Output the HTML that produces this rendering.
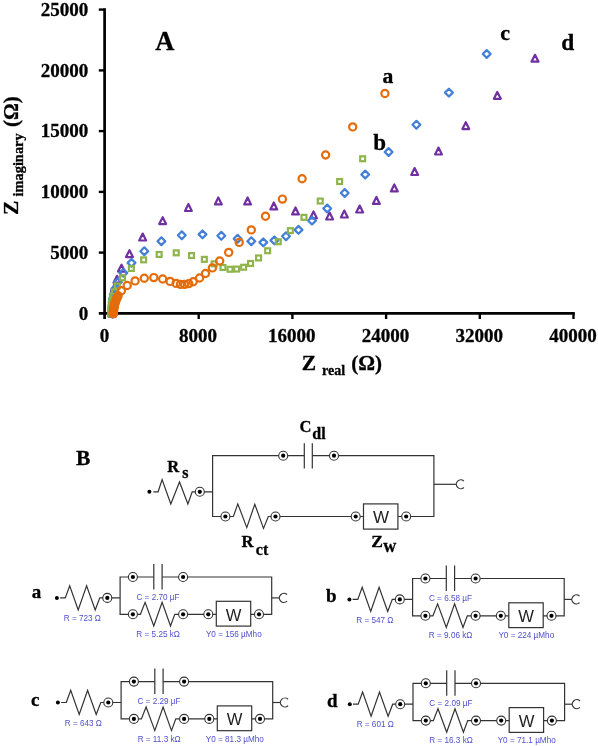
<!DOCTYPE html>
<html><head><meta charset="utf-8"><title>Nyquist</title>
<style>html,body{margin:0;padding:0;background:#fff}body{width:598px;height:746px;overflow:hidden;font-family:"Liberation Serif",serif}svg{display:block}text{font-family:"Liberation Serif",serif;font-weight:bold;fill:#000;stroke:#000;stroke-width:.3px}.s{font-family:"Liberation Sans",sans-serif;font-weight:normal;stroke:none}</style>
</head><body><div style="will-change:transform;width:598px;height:746px">
<svg width="598" height="746" viewBox="0 0 598 746">
<rect width="598" height="746" fill="#fff"/>
<g stroke="#000" stroke-width="2.7" fill="none" stroke-linecap="butt">
<path d="M104.6 8.299999999999965 V319.0"/>
<path d="M98.8 313.4 H574.8"/>
</g>
<g stroke="#000" stroke-width="2.4" fill="none">
<path d="M98.8 252.6 H104.6"/>
<path d="M98.8 191.9 H104.6"/>
<path d="M98.8 131.1 H104.6"/>
<path d="M98.8 70.4 H104.6"/>
<path d="M98.8 9.6 H104.6"/>
<path d="M198.7 313.4 V319.0"/>
<path d="M292.4 313.4 V319.0"/>
<path d="M386.1 313.4 V319.0"/>
<path d="M479.8 313.4 V319.0"/>
<path d="M573.5 313.4 V319.0"/>
</g>
<g font-size="19">
<text x="88.3" y="319.6" text-anchor="end">0</text>
<text x="88.3" y="258.8" text-anchor="end">5000</text>
<text x="88.3" y="198.1" text-anchor="end">10000</text>
<text x="88.3" y="137.3" text-anchor="end">15000</text>
<text x="88.3" y="76.6" text-anchor="end">20000</text>
<text x="88.3" y="15.8" text-anchor="end">25000</text>
<text x="104.4" y="341.5" text-anchor="middle">0</text>
<text x="198.1" y="341.5" text-anchor="middle">8000</text>
<text x="291.8" y="341.5" text-anchor="middle">16000</text>
<text x="385.5" y="341.5" text-anchor="middle">24000</text>
<text x="479.2" y="341.5" text-anchor="middle">32000</text>
<text x="572.9" y="341.5" text-anchor="middle">40000</text>
</g>
<text x="301.8" y="370.2" font-size="21.5">Z</text>
<text x="322" y="374.8" font-size="14">real</text>
<text x="351.3" y="370.2" font-size="21">(Ω)</text>
<g transform="translate(17.8,215) rotate(-90)">
<text x="0" y="0" font-size="21.5">Z</text>
<text x="18.5" y="4.8" font-size="14.4">imaginary</text>
<text x="88" y="0" font-size="21">(Ω)</text>
</g>
<text x="155.3" y="49.9" font-size="26.5">A</text>
<text x="382.5" y="83.2" font-size="21.7">a</text>
<text x="373.2" y="149.6" font-size="23">b</text>
<text x="500.2" y="39.7" font-size="22">c</text>
<text x="561.3" y="50.4" font-size="23.4">d</text>
<g fill="none" stroke="#7030A0" stroke-width="2.2" stroke-linejoin="round">
<path d="M535.0 54.8 L538.5 61.7 H531.5 Z"/>
<path d="M497.3 91.9 L500.8 98.8 H493.9 Z"/>
<path d="M465.8 122.2 L469.2 129.1 H462.4 Z"/>
<path d="M438.5 147.6 L441.9 154.5 H435.1 Z"/>
<path d="M414.6 168.1 L418.1 175.0 H411.2 Z"/>
<path d="M394.3 184.5 L397.8 191.4 H390.9 Z"/>
<path d="M376.4 197.0 L379.8 203.9 H372.9 Z"/>
<path d="M359.7 205.6 L363.1 212.5 H356.2 Z"/>
<path d="M344.3 210.6 L347.8 217.5 H340.9 Z"/>
<path d="M329.6 212.6 L333.1 219.5 H326.2 Z"/>
<path d="M313.5 211.4 L316.9 218.3 H310.1 Z"/>
<path d="M295.5 207.5 L298.9 214.4 H292.1 Z"/>
<path d="M273.8 202.5 L277.2 209.4 H270.4 Z"/>
<path d="M247.6 197.5 L251.0 204.4 H244.2 Z"/>
<path d="M218.3 197.5 L221.8 204.4 H214.9 Z"/>
<path d="M188.4 204.1 L191.8 211.0 H185.0 Z"/>
<path d="M162.7 217.2 L166.1 224.1 H159.2 Z"/>
<path d="M142.7 233.6 L146.1 240.5 H139.2 Z"/>
<path d="M129.5 250.2 L132.9 257.1 H126.0 Z"/>
<path d="M121.5 264.7 L125.0 271.6 H118.0 Z"/>
<path d="M117.0 275.8 L120.5 282.7 H113.5 Z"/>
<path d="M114.5 284.3 L118.0 291.2 H111.0 Z"/>
<path d="M113.2 290.8 L116.7 297.7 H109.8 Z"/>
<path d="M112.5 295.8 L116.0 302.7 H109.0 Z"/>
<path d="M112.2 299.8 L115.7 306.7 H108.8 Z"/>
<path d="M112.1 302.8 L115.5 309.7 H108.6 Z"/>
<path d="M112.0 305.3 L115.5 312.2 H108.5 Z"/>
<path d="M112.0 307.3 L115.5 314.2 H108.5 Z"/>
<path d="M112.0 308.8 L115.5 315.7 H108.5 Z"/>
<path d="M112.0 309.8 L115.5 316.7 H108.5 Z"/>
</g>
<g fill="none" stroke="#427FD8" stroke-width="2.2" stroke-linejoin="round">
<path d="M486.7 50.1 L490.6 54.0 L486.7 57.9 L482.8 54.0 Z"/>
<path d="M448.9 88.7 L452.8 92.6 L448.9 96.5 L445.0 92.6 Z"/>
<path d="M416.4 120.8 L420.3 124.7 L416.4 128.6 L412.5 124.7 Z"/>
<path d="M388.6 148.1 L392.5 152.0 L388.6 155.9 L384.7 152.0 Z"/>
<path d="M365.2 170.6 L369.1 174.5 L365.2 178.4 L361.3 174.5 Z"/>
<path d="M344.7 189.1 L348.6 193.0 L344.7 196.9 L340.8 193.0 Z"/>
<path d="M327.2 204.6 L331.1 208.5 L327.2 212.4 L323.3 208.5 Z"/>
<path d="M312.0 216.7 L315.9 220.6 L312.0 224.5 L308.1 220.6 Z"/>
<path d="M298.5 226.0 L302.4 229.9 L298.5 233.8 L294.6 229.9 Z"/>
<path d="M286.0 232.4 L289.9 236.3 L286.0 240.2 L282.1 236.3 Z"/>
<path d="M274.4 236.5 L278.3 240.4 L274.4 244.3 L270.5 240.4 Z"/>
<path d="M263.3 238.5 L267.2 242.4 L263.3 246.3 L259.4 242.4 Z"/>
<path d="M251.3 237.3 L255.2 241.2 L251.3 245.1 L247.4 241.2 Z"/>
<path d="M237.6 234.8 L241.5 238.7 L237.6 242.6 L233.7 238.7 Z"/>
<path d="M221.3 231.9 L225.2 235.8 L221.3 239.7 L217.4 235.8 Z"/>
<path d="M202.5 230.5 L206.4 234.4 L202.5 238.3 L198.6 234.4 Z"/>
<path d="M181.8 231.4 L185.7 235.3 L181.8 239.2 L177.9 235.3 Z"/>
<path d="M161.4 237.3 L165.3 241.2 L161.4 245.1 L157.5 241.2 Z"/>
<path d="M144.3 247.3 L148.2 251.2 L144.3 255.1 L140.4 251.2 Z"/>
<path d="M131.5 259.0 L135.4 262.9 L131.5 266.8 L127.6 262.9 Z"/>
<path d="M123.3 269.0 L127.2 272.9 L123.3 276.8 L119.4 272.9 Z"/>
<path d="M118.0 278.1 L121.9 282.0 L118.0 285.9 L114.1 282.0 Z"/>
<path d="M115.2 285.0 L119.1 288.9 L115.2 292.8 L111.3 288.9 Z"/>
<path d="M113.7 290.5 L117.6 294.4 L113.7 298.3 L109.8 294.4 Z"/>
<path d="M113.0 295.0 L116.9 298.9 L113.0 302.8 L109.1 298.9 Z"/>
<path d="M112.7 298.5 L116.6 302.4 L112.7 306.3 L108.8 302.4 Z"/>
<path d="M112.6 301.5 L116.5 305.4 L112.6 309.3 L108.7 305.4 Z"/>
<path d="M112.5 304.0 L116.4 307.9 L112.5 311.8 L108.6 307.9 Z"/>
<path d="M112.5 306.0 L116.4 309.9 L112.5 313.8 L108.6 309.9 Z"/>
<path d="M112.5 307.5 L116.4 311.4 L112.5 315.3 L108.6 311.4 Z"/>
<path d="M112.5 308.8 L116.4 312.7 L112.5 316.6 L108.6 312.7 Z"/>
<path d="M112.5 309.8 L116.4 313.7 L112.5 317.6 L108.6 313.7 Z"/>
</g>
<g fill="none" stroke="#8FB44C" stroke-width="2.2">
<rect x="360.2" y="156.3" width="4.9" height="4.9"/>
<rect x="337.2" y="179.1" width="4.9" height="4.9"/>
<rect x="317.8" y="198.6" width="4.9" height="4.9"/>
<rect x="301.5" y="214.9" width="4.9" height="4.9"/>
<rect x="287.9" y="228.2" width="4.9" height="4.9"/>
<rect x="275.8" y="239.3" width="4.9" height="4.9"/>
<rect x="265.2" y="248.3" width="4.9" height="4.9"/>
<rect x="256.1" y="255.5" width="4.9" height="4.9"/>
<rect x="248.1" y="261.0" width="4.9" height="4.9"/>
<rect x="241.2" y="264.8" width="4.9" height="4.9"/>
<rect x="234.2" y="266.6" width="4.9" height="4.9"/>
<rect x="227.6" y="266.8" width="4.9" height="4.9"/>
<rect x="220.5" y="265.0" width="4.9" height="4.9"/>
<rect x="211.7" y="261.4" width="4.9" height="4.9"/>
<rect x="201.9" y="256.9" width="4.9" height="4.9"/>
<rect x="189.1" y="253.1" width="4.9" height="4.9"/>
<rect x="173.8" y="250.4" width="4.9" height="4.9"/>
<rect x="156.7" y="252.0" width="4.9" height="4.9"/>
<rect x="141.2" y="257.4" width="4.9" height="4.9"/>
<rect x="128.9" y="266.0" width="4.9" height="4.9"/>
<rect x="120.1" y="275.4" width="4.9" height="4.9"/>
<rect x="114.8" y="283.5" width="4.9" height="4.9"/>
<rect x="111.9" y="289.4" width="4.9" height="4.9"/>
<rect x="110.5" y="293.9" width="4.9" height="4.9"/>
<rect x="109.8" y="297.4" width="4.9" height="4.9"/>
<rect x="109.2" y="300.4" width="4.9" height="4.9"/>
<rect x="108.9" y="302.9" width="4.9" height="4.9"/>
<rect x="108.8" y="304.9" width="4.9" height="4.9"/>
<rect x="108.8" y="306.9" width="4.9" height="4.9"/>
<rect x="108.8" y="308.4" width="4.9" height="4.9"/>
<rect x="108.8" y="309.7" width="4.9" height="4.9"/>
<rect x="108.8" y="310.7" width="4.9" height="4.9"/>
<rect x="108.8" y="311.4" width="4.9" height="4.9"/>
</g>
<g fill="none" stroke="#E46C0A" stroke-width="2.2">
<circle cx="384.9" cy="93.5" r="3.6"/>
<circle cx="352.7" cy="126.9" r="3.6"/>
<circle cx="325.6" cy="155.0" r="3.6"/>
<circle cx="302.1" cy="178.7" r="3.6"/>
<circle cx="282.4" cy="199.1" r="3.6"/>
<circle cx="265.5" cy="216.2" r="3.6"/>
<circle cx="251.3" cy="229.9" r="3.6"/>
<circle cx="239.2" cy="242.4" r="3.6"/>
<circle cx="228.7" cy="252.4" r="3.6"/>
<circle cx="219.7" cy="261.0" r="3.6"/>
<circle cx="212.4" cy="267.9" r="3.6"/>
<circle cx="205.5" cy="273.5" r="3.6"/>
<circle cx="199.6" cy="278.0" r="3.6"/>
<circle cx="193.2" cy="281.8" r="3.6"/>
<circle cx="188.7" cy="283.6" r="3.6"/>
<circle cx="184.6" cy="284.4" r="3.6"/>
<circle cx="180.5" cy="284.4" r="3.6"/>
<circle cx="176.2" cy="283.4" r="3.6"/>
<circle cx="170.1" cy="281.4" r="3.6"/>
<circle cx="162.7" cy="279.0" r="3.6"/>
<circle cx="153.8" cy="277.6" r="3.6"/>
<circle cx="144.3" cy="278.3" r="3.6"/>
<circle cx="135.1" cy="280.9" r="3.6"/>
<circle cx="127.2" cy="285.5" r="3.6"/>
<circle cx="121.4" cy="290.7" r="3.6"/>
<circle cx="118.1" cy="295.7" r="3.6"/>
<circle cx="117.1" cy="297.7" r="3.6"/>
<circle cx="116.3" cy="299.5" r="3.6"/>
<circle cx="115.7" cy="301.0" r="3.6"/>
<circle cx="115.2" cy="302.5" r="3.6"/>
<circle cx="114.8" cy="303.8" r="3.6"/>
<circle cx="114.5" cy="305.0" r="3.6"/>
<circle cx="114.3" cy="306.0" r="3.6"/>
<circle cx="114.1" cy="307.0" r="3.6"/>
<circle cx="113.8" cy="308.7" r="3.6"/>
<circle cx="113.6" cy="310.0" r="3.6"/>
<circle cx="113.5" cy="311.0" r="3.6"/>
<circle cx="113.4" cy="312.0" r="3.6"/>
<circle cx="113.4" cy="312.8" r="3.6"/>
<circle cx="113.4" cy="313.4" r="3.6"/>
<circle cx="113.4" cy="313.8" r="3.6"/>
</g>
<text x="76" y="464.6" font-size="21.5">B</text>
<g fill="none" stroke="#333" stroke-width="1.2" stroke-linejoin="miter">
<path d="M153.4 491.8 H158.1 L162.1 479.6 L170.8 504.0 L179.5 482.0 L187.9 504.0 L192.2 491.8 H212.6"/>
<path d="M304.3 455.7 H212.6 V516.5 H233.4 L237.8 503.9 L246.8 527.6 L254.8 504.2 L263.5 528.4 L268.3 516.5 H363.5"/>
<path d="M304.3 443.2 V468.5 M312.3 443.2 V468.5"/>
<path d="M312.3 455.7 H433.9 V516.5 H398"/>
<path d="M433.9 484.3 H456.3"/>
<rect x="363.5" y="503.9" width="34.4" height="25.2"/>
</g>
<circle cx="149.4" cy="491.8" r="2.0" fill="#000"/>
<circle cx="199.8" cy="491.8" r="4.5" fill="#fff" stroke="#333" stroke-width="1.1"/><circle cx="199.8" cy="491.8" r="2.1" fill="#000" stroke="none"/>
<circle cx="283.2" cy="455.7" r="4.5" fill="#fff" stroke="#333" stroke-width="1.1"/><circle cx="283.2" cy="455.7" r="2.1" fill="#000" stroke="none"/>
<circle cx="334" cy="455.7" r="4.5" fill="#fff" stroke="#333" stroke-width="1.1"/><circle cx="334" cy="455.7" r="2.1" fill="#000" stroke="none"/>
<circle cx="225.4" cy="516.5" r="4.5" fill="#fff" stroke="#333" stroke-width="1.1"/><circle cx="225.4" cy="516.5" r="2.1" fill="#000" stroke="none"/>
<circle cx="275.5" cy="516.5" r="4.5" fill="#fff" stroke="#333" stroke-width="1.1"/><circle cx="275.5" cy="516.5" r="2.1" fill="#000" stroke="none"/>
<circle cx="355.7" cy="516.5" r="4.5" fill="#fff" stroke="#333" stroke-width="1.1"/><circle cx="355.7" cy="516.5" r="2.1" fill="#000" stroke="none"/>
<circle cx="406.2" cy="516.5" r="4.5" fill="#fff" stroke="#333" stroke-width="1.1"/><circle cx="406.2" cy="516.5" r="2.1" fill="#000" stroke="none"/>
<path d="M463.89 481.10 A4.45 4.45 0 1 0 463.89 487.50" fill="none" stroke="#333" stroke-width="1.2"/>
<text class="s" x="381.1" y="523.2" font-size="17" text-anchor="middle" style="fill:#222">W</text>
<g font-size="16.5">
<text x="167.3" y="472.4">R</text><text x="182.2" y="477.9" font-size="16">s</text>
<text x="299.6" y="431.6">C</text><text x="312.3" y="438.9" font-size="16">dl</text>
<text x="241.4" y="547.4">R</text><text x="255.8" y="555" font-size="16">ct</text>
<text x="371.3" y="547.1" font-size="17.5">Z</text><text x="383.2" y="552" font-size="18">w</text>
</g>
<g transform="translate(0,0)">
<g fill="none" stroke="#333" stroke-width="1.2" stroke-linejoin="miter">
<path d="M60.1 597.9 H65.3 L69.7 585.7 L78.2 609.9 L86.6 585.7 L95.2 609.9 L99.8 597.9 H120.1"/>
<path d="M153.8 577.0 H120.1 V614.3 H140.4 L145.1 602.4 L153.8 626.0 L162.1 602.4 L170.5 626.0 L174.8 614.3 H216.3"/>
<path d="M153.8 564.0 V589.4 M162.1 564.0 V589.4"/>
<path d="M162.1 577.0 H271.7 V614.3 H250.7"/>
<path d="M271.7 597.9 H279.4"/>
<rect x="216.3" y="601.3" width="34.4" height="24.8"/>
</g>
<circle cx="56.9" cy="597.9" r="2.0" fill="#000"/>
<circle cx="107.3" cy="597.9" r="4.5" fill="#fff" stroke="#333" stroke-width="1.1"/><circle cx="107.3" cy="597.9" r="2.1" fill="#000" stroke="none"/>
<circle cx="132.9" cy="577.0" r="4.5" fill="#fff" stroke="#333" stroke-width="1.1"/><circle cx="132.9" cy="577.0" r="2.1" fill="#000" stroke="none"/>
<circle cx="183.1" cy="577.0" r="4.5" fill="#fff" stroke="#333" stroke-width="1.1"/><circle cx="183.1" cy="577.0" r="2.1" fill="#000" stroke="none"/>
<circle cx="132.9" cy="614.3" r="4.5" fill="#fff" stroke="#333" stroke-width="1.1"/><circle cx="132.9" cy="614.3" r="2.1" fill="#000" stroke="none"/>
<circle cx="183.1" cy="614.3" r="4.5" fill="#fff" stroke="#333" stroke-width="1.1"/><circle cx="183.1" cy="614.3" r="2.1" fill="#000" stroke="none"/>
<circle cx="208.3" cy="614.3" r="4.5" fill="#fff" stroke="#333" stroke-width="1.1"/><circle cx="208.3" cy="614.3" r="2.1" fill="#000" stroke="none"/>
<circle cx="259.0" cy="614.3" r="4.5" fill="#fff" stroke="#333" stroke-width="1.1"/><circle cx="259.0" cy="614.3" r="2.1" fill="#000" stroke="none"/>
<path d="M287.03 594.66 A4.5 4.5 0 1 0 287.03 601.14" fill="none" stroke="#333" stroke-width="1.2"/>
<text class="s" x="233.6" y="620.6" font-size="16.6" text-anchor="middle" style="fill:#222">W</text>
<text class="s" transform="translate(82.35,621.0) scale(0.93,1)" font-size="8.8" text-anchor="middle" style="fill:#4f4fcc">R = 723 Ω</text>
<text class="s" transform="translate(158.0,599.7) scale(0.93,1)" font-size="8.8" text-anchor="middle" style="fill:#4f4fcc">C = 2.70 µF</text>
<text class="s" transform="translate(158.15,636.9) scale(0.93,1)" font-size="8.8" text-anchor="middle" style="fill:#4f4fcc">R = 5.25 kΩ</text>
<text class="s" transform="translate(233.8,636.9) scale(0.93,1)" font-size="8.8" text-anchor="middle" style="fill:#4f4fcc">Y0 = 156 µMho</text>
</g>
<text x="31.8" y="598.3" font-size="19">a</text>
<g transform="translate(292.5,1.5)">
<g fill="none" stroke="#333" stroke-width="1.2" stroke-linejoin="miter">
<path d="M60.1 597.9 H65.3 L69.7 585.7 L78.2 609.9 L86.6 585.7 L95.2 609.9 L99.8 597.9 H120.1"/>
<path d="M153.8 577.0 H120.1 V614.3 H140.4 L145.1 602.4 L153.8 626.0 L162.1 602.4 L170.5 626.0 L174.8 614.3 H216.3"/>
<path d="M153.8 564.0 V589.4 M162.1 564.0 V589.4"/>
<path d="M162.1 577.0 H271.7 V614.3 H250.7"/>
<path d="M271.7 597.9 H279.4"/>
<rect x="216.3" y="601.3" width="34.4" height="24.8"/>
</g>
<circle cx="56.9" cy="597.9" r="2.0" fill="#000"/>
<circle cx="107.3" cy="597.9" r="4.5" fill="#fff" stroke="#333" stroke-width="1.1"/><circle cx="107.3" cy="597.9" r="2.1" fill="#000" stroke="none"/>
<circle cx="132.9" cy="577.0" r="4.5" fill="#fff" stroke="#333" stroke-width="1.1"/><circle cx="132.9" cy="577.0" r="2.1" fill="#000" stroke="none"/>
<circle cx="183.1" cy="577.0" r="4.5" fill="#fff" stroke="#333" stroke-width="1.1"/><circle cx="183.1" cy="577.0" r="2.1" fill="#000" stroke="none"/>
<circle cx="132.9" cy="614.3" r="4.5" fill="#fff" stroke="#333" stroke-width="1.1"/><circle cx="132.9" cy="614.3" r="2.1" fill="#000" stroke="none"/>
<circle cx="183.1" cy="614.3" r="4.5" fill="#fff" stroke="#333" stroke-width="1.1"/><circle cx="183.1" cy="614.3" r="2.1" fill="#000" stroke="none"/>
<circle cx="208.3" cy="614.3" r="4.5" fill="#fff" stroke="#333" stroke-width="1.1"/><circle cx="208.3" cy="614.3" r="2.1" fill="#000" stroke="none"/>
<circle cx="259.0" cy="614.3" r="4.5" fill="#fff" stroke="#333" stroke-width="1.1"/><circle cx="259.0" cy="614.3" r="2.1" fill="#000" stroke="none"/>
<path d="M287.03 594.66 A4.5 4.5 0 1 0 287.03 601.14" fill="none" stroke="#333" stroke-width="1.2"/>
<text class="s" x="233.6" y="620.6" font-size="16.6" text-anchor="middle" style="fill:#222">W</text>
<text class="s" transform="translate(82.35,621.0) scale(0.93,1)" font-size="8.8" text-anchor="middle" style="fill:#4f4fcc">R = 547 Ω</text>
<text class="s" transform="translate(158.0,599.7) scale(0.93,1)" font-size="8.8" text-anchor="middle" style="fill:#4f4fcc">C = 6.58 µF</text>
<text class="s" transform="translate(158.15,636.9) scale(0.93,1)" font-size="8.8" text-anchor="middle" style="fill:#4f4fcc">R = 9.06 kΩ</text>
<text class="s" transform="translate(233.8,636.9) scale(0.93,1)" font-size="8.8" text-anchor="middle" style="fill:#4f4fcc">Y0 = 224 µMho</text>
</g>
<text x="326.0" y="601.9" font-size="19">b</text>
<g transform="translate(1.0,104.6)">
<g fill="none" stroke="#333" stroke-width="1.2" stroke-linejoin="miter">
<path d="M60.1 597.9 H65.3 L69.7 585.7 L78.2 609.9 L86.6 585.7 L95.2 609.9 L99.8 597.9 H120.1"/>
<path d="M153.8 577.0 H120.1 V614.3 H140.4 L145.1 602.4 L153.8 626.0 L162.1 602.4 L170.5 626.0 L174.8 614.3 H216.3"/>
<path d="M153.8 564.0 V589.4 M162.1 564.0 V589.4"/>
<path d="M162.1 577.0 H271.7 V614.3 H250.7"/>
<path d="M271.7 597.9 H279.4"/>
<rect x="216.3" y="601.3" width="34.4" height="24.8"/>
</g>
<circle cx="56.9" cy="597.9" r="2.0" fill="#000"/>
<circle cx="107.3" cy="597.9" r="4.5" fill="#fff" stroke="#333" stroke-width="1.1"/><circle cx="107.3" cy="597.9" r="2.1" fill="#000" stroke="none"/>
<circle cx="132.9" cy="577.0" r="4.5" fill="#fff" stroke="#333" stroke-width="1.1"/><circle cx="132.9" cy="577.0" r="2.1" fill="#000" stroke="none"/>
<circle cx="183.1" cy="577.0" r="4.5" fill="#fff" stroke="#333" stroke-width="1.1"/><circle cx="183.1" cy="577.0" r="2.1" fill="#000" stroke="none"/>
<circle cx="132.9" cy="614.3" r="4.5" fill="#fff" stroke="#333" stroke-width="1.1"/><circle cx="132.9" cy="614.3" r="2.1" fill="#000" stroke="none"/>
<circle cx="183.1" cy="614.3" r="4.5" fill="#fff" stroke="#333" stroke-width="1.1"/><circle cx="183.1" cy="614.3" r="2.1" fill="#000" stroke="none"/>
<circle cx="208.3" cy="614.3" r="4.5" fill="#fff" stroke="#333" stroke-width="1.1"/><circle cx="208.3" cy="614.3" r="2.1" fill="#000" stroke="none"/>
<circle cx="259.0" cy="614.3" r="4.5" fill="#fff" stroke="#333" stroke-width="1.1"/><circle cx="259.0" cy="614.3" r="2.1" fill="#000" stroke="none"/>
<path d="M287.03 594.66 A4.5 4.5 0 1 0 287.03 601.14" fill="none" stroke="#333" stroke-width="1.2"/>
<text class="s" x="233.6" y="620.6" font-size="16.6" text-anchor="middle" style="fill:#222">W</text>
<text class="s" transform="translate(82.35,621.0) scale(0.93,1)" font-size="8.8" text-anchor="middle" style="fill:#4f4fcc">R = 643 Ω</text>
<text class="s" transform="translate(158.0,599.7) scale(0.93,1)" font-size="8.8" text-anchor="middle" style="fill:#4f4fcc">C = 2.29 µF</text>
<text class="s" transform="translate(158.15,636.9) scale(0.93,1)" font-size="8.8" text-anchor="middle" style="fill:#4f4fcc">R = 11.3 kΩ</text>
<text class="s" transform="translate(233.8,636.9) scale(0.93,1)" font-size="8.8" text-anchor="middle" style="fill:#4f4fcc">Y0 = 81.3 µMho</text>
</g>
<text x="31.1" y="705.9" font-size="19">c</text>
<g transform="translate(292.9,106.3)">
<g fill="none" stroke="#333" stroke-width="1.2" stroke-linejoin="miter">
<path d="M60.1 597.9 H65.3 L69.7 585.7 L78.2 609.9 L86.6 585.7 L95.2 609.9 L99.8 597.9 H120.1"/>
<path d="M153.8 577.0 H120.1 V614.3 H140.4 L145.1 602.4 L153.8 626.0 L162.1 602.4 L170.5 626.0 L174.8 614.3 H216.3"/>
<path d="M153.8 564.0 V589.4 M162.1 564.0 V589.4"/>
<path d="M162.1 577.0 H271.7 V614.3 H250.7"/>
<path d="M271.7 597.9 H279.4"/>
<rect x="216.3" y="601.3" width="34.4" height="24.8"/>
</g>
<circle cx="56.9" cy="597.9" r="2.0" fill="#000"/>
<circle cx="107.3" cy="597.9" r="4.5" fill="#fff" stroke="#333" stroke-width="1.1"/><circle cx="107.3" cy="597.9" r="2.1" fill="#000" stroke="none"/>
<circle cx="132.9" cy="577.0" r="4.5" fill="#fff" stroke="#333" stroke-width="1.1"/><circle cx="132.9" cy="577.0" r="2.1" fill="#000" stroke="none"/>
<circle cx="183.1" cy="577.0" r="4.5" fill="#fff" stroke="#333" stroke-width="1.1"/><circle cx="183.1" cy="577.0" r="2.1" fill="#000" stroke="none"/>
<circle cx="132.9" cy="614.3" r="4.5" fill="#fff" stroke="#333" stroke-width="1.1"/><circle cx="132.9" cy="614.3" r="2.1" fill="#000" stroke="none"/>
<circle cx="183.1" cy="614.3" r="4.5" fill="#fff" stroke="#333" stroke-width="1.1"/><circle cx="183.1" cy="614.3" r="2.1" fill="#000" stroke="none"/>
<circle cx="208.3" cy="614.3" r="4.5" fill="#fff" stroke="#333" stroke-width="1.1"/><circle cx="208.3" cy="614.3" r="2.1" fill="#000" stroke="none"/>
<circle cx="259.0" cy="614.3" r="4.5" fill="#fff" stroke="#333" stroke-width="1.1"/><circle cx="259.0" cy="614.3" r="2.1" fill="#000" stroke="none"/>
<path d="M287.03 594.66 A4.5 4.5 0 1 0 287.03 601.14" fill="none" stroke="#333" stroke-width="1.2"/>
<text class="s" x="233.6" y="620.6" font-size="16.6" text-anchor="middle" style="fill:#222">W</text>
<text class="s" transform="translate(82.35,621.0) scale(0.93,1)" font-size="8.8" text-anchor="middle" style="fill:#4f4fcc">R = 601 Ω</text>
<text class="s" transform="translate(158.0,599.7) scale(0.93,1)" font-size="8.8" text-anchor="middle" style="fill:#4f4fcc">C = 2.09 µF</text>
<text class="s" transform="translate(158.15,636.9) scale(0.93,1)" font-size="8.8" text-anchor="middle" style="fill:#4f4fcc">R = 16.3 kΩ</text>
<text class="s" transform="translate(233.8,636.9) scale(0.93,1)" font-size="8.8" text-anchor="middle" style="fill:#4f4fcc">Y0 = 71.1 µMho</text>
</g>
<text x="327.0" y="707.2" font-size="19">d</text>
</svg></div></body></html>
